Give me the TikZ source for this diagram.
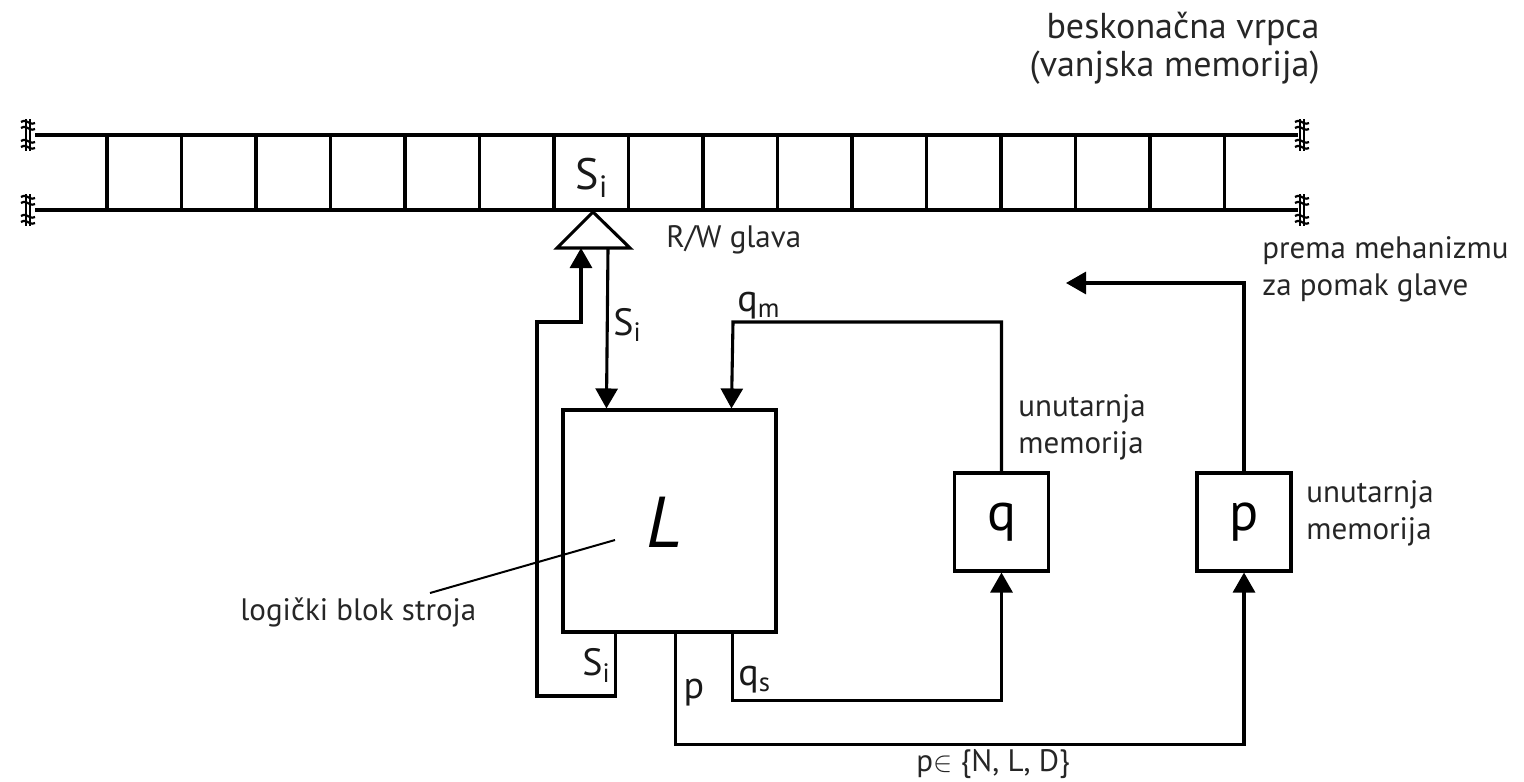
\documentclass[tikz,border=0pt]{standalone}
\usepackage{fontspec}
\setmainfont{PT Sans}
\usetikzlibrary{arrows.meta}
\tikzset{
  ln/.style={line width=1.55pt, line join=miter},
  arr/.style={ln, -{Triangle[length=10pt,width=11pt]}},
  blk/.style={draw, line width=1.55pt, fill=white, inner sep=0pt},
  lbl/.style={text=black!85, font=\fontsize{15.5}{18.5}\selectfont, inner sep=0pt},
  sym/.style={text=black!90, font=\fontsize{19}{19}\selectfont, inner sep=0pt},
}
\newcommand\tapebreak[2]{%
  \begin{scope}[shift={(#1,#2)}, line width=1.1pt]
    \draw (-7,-13) .. controls (0,-17) and (0,-9) .. (7,-12);
    \draw (-7,-7) .. controls (0,-11) and (0,-3) .. (7,-6);
    \draw (-7,6) .. controls (0,2) and (0,10) .. (7,7);
    \draw (-7,12) .. controls (0,8) and (0,16) .. (7,13);
    \draw (-2,-16) -- (-2,16);
    \draw (2,-16) -- (2,16);
  \end{scope}}
\begin{document}
\begin{tikzpicture}[x=0.5pt,y=-0.5pt]
\useasboundingbox (0,0) rectangle (1524,781);

% tape
\draw[ln] (35,135) -- (1298,135);
\draw[ln] (35,210) -- (1298,210);
\foreach \k in {0,...,15} { \draw[ln] ({107+74.5*\k},135) -- ({107+74.5*\k},210); }
\tapebreak{28}{135}
\tapebreak{28}{210}
\tapebreak{1302}{135}
\tapebreak{1302}{210}
\node[sym, font=\fontsize{22}{22}\selectfont] (si) at (592,178) {S\textsubscript{i}};

% R/W head
\draw[ln, fill=white] (593,212) -- (630,248) -- (557,248) -- cycle;
\coordinate (headL) at (581,248);
\coordinate (headR) at (608,248);
\node[lbl, anchor=west] (rw) at (666,240) {R/W glava};

% blocks
\node[blk, minimum width=106.5pt, minimum height=111pt] (L) at (669.5,521) {};
\node[font=\fontsize{36}{36}\selectfont\itshape, inner sep=0pt] (Lt) at (664,522) {L};
\node[blk, minimum width=47pt, minimum height=49pt] (q) at (1001.5,522) {\fontsize{27}{27}\selectfont q};
\node[blk, minimum width=47pt, minimum height=49pt] (p) at (1244,522) {\fontsize{27}{27}\selectfont p};

% connectors
\draw[arr] ([xshift=27pt]L.south west) |- (537,696) -- (537,322) -| (headL);
\draw[arr] (headR) -- ([xshift=22.5pt]L.north west);
\draw[arr] (q.north) |- (733,322) -- ([xshift=85pt]L.north west);
\draw[arr] ([xshift=85.5pt]L.south west) -- ++(0,67) -| (q.south);
\draw[arr] ([xshift=57pt]L.south west) -- ++(0,111) -| (p.south);
\coordinate (mech) at (1066,283);
\draw[arr] (p.north) |- (mech);

% connector labels
\node[sym, anchor=west] (l1) at (613,325) {S\textsubscript{i}};
\node[sym, anchor=west] (l2) at (737,306) {q\textsubscript{m}};
\node[sym, anchor=west] (l3) at (582,665) {S\textsubscript{i}};
\node[sym] (l4) at (694,693) {p};
\node[sym, anchor=west] (l5) at (738,680) {q\textsubscript{s}};
\node[lbl, anchor=south west] (l6) at (916,779) {p$\in$ \{N, L, D\}};

% descriptive labels
\node[lbl, font=\fontsize{18}{19}\selectfont, anchor=north east, align=right] (tape) at (1320,12) {beskonačna vrpca\\(vanjska memorija)};
\node[lbl, anchor=north west, align=left] (mechlbl) at (1262,236) {prema mehanizmu\\za pomak glave};
\node[lbl, anchor=north west, align=left] (qmem) at (1018,394) {unutarnja\\memorija};
\node[lbl, anchor=north west, align=left] (pmem) at (1306,480) {unutarnja\\memorija};
\node[lbl, anchor=west] (logic) at (240,612) {logički blok stroja};
\coordinate (lead) at (615,540);
\draw[line width=1pt] (lead) -- (430,593);
\end{tikzpicture}
\end{document}
